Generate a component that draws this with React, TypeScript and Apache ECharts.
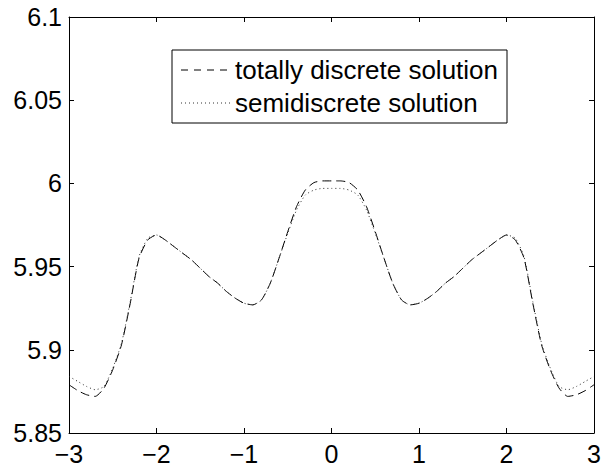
import React, { useEffect, useRef } from "react";
import * as echarts from "echarts";

const xs: number[] = [
  -3.0, -2.9, -2.8, -2.7, -2.6, -2.5, -2.4, -2.3, -2.2, -2.1, -2.0,
  -1.9, -1.8, -1.7, -1.6, -1.5, -1.4, -1.3, -1.2, -1.1, -1.0,
  -0.9, -0.8, -0.7, -0.6, -0.5, -0.4, -0.3, -0.2, -0.1, 0.0,
  0.1, 0.2, 0.3, 0.4, 0.5, 0.6, 0.7, 0.8, 0.9, 1.0,
  1.1, 1.2, 1.3, 1.4, 1.5, 1.6, 1.7, 1.8, 1.9, 2.0,
  2.1, 2.2, 2.3, 2.4, 2.5, 2.6, 2.7, 2.8, 2.9, 3.0,
];

const totallyDiscrete: number[] = [
  5.879, 5.8755, 5.873, 5.872, 5.877, 5.888, 5.903, 5.928, 5.955, 5.966, 5.969,
  5.966, 5.962, 5.958, 5.954, 5.949, 5.944, 5.94, 5.935, 5.931, 5.928,
  5.927, 5.93, 5.94, 5.955, 5.971, 5.986, 5.996, 6.0005, 6.0015, 6.0015,
  6.0015, 6.0005, 5.996, 5.986, 5.971, 5.955, 5.94, 5.93, 5.927, 5.928,
  5.931, 5.935, 5.94, 5.944, 5.949, 5.954, 5.958, 5.962, 5.966, 5.969,
  5.966, 5.955, 5.928, 5.903, 5.888, 5.877, 5.872, 5.873, 5.8755, 5.879,
];

const semiDiscrete: number[] = [
  5.884, 5.881, 5.878, 5.876, 5.878, 5.889, 5.904, 5.929, 5.956, 5.967, 5.969,
  5.966, 5.962, 5.958, 5.954, 5.949, 5.944, 5.94, 5.935, 5.931, 5.928,
  5.927, 5.93, 5.94, 5.955, 5.97, 5.984, 5.993, 5.996, 5.997, 5.997,
  5.997, 5.996, 5.993, 5.984, 5.97, 5.955, 5.94, 5.93, 5.927, 5.928,
  5.931, 5.935, 5.94, 5.944, 5.949, 5.954, 5.958, 5.962, 5.966, 5.969,
  5.967, 5.956, 5.929, 5.904, 5.889, 5.878, 5.876, 5.878, 5.881, 5.884,
];

const legendLabels: string[] = ["totally discrete solution", "semidiscrete solution"];

const FONT = "'Liberation Sans', Arial, Helvetica, sans-serif";

export default function App() {
  const ref = useRef<HTMLDivElement>(null);
  useEffect(() => {
    if (!ref.current) return;
    const chart = echarts.init(ref.current, undefined, { renderer: "svg" });
    const fmtX = (v: number) => String(Math.round(v)).replace("-", "\u2212");
    const fmtY = (v: number) => String(parseFloat(v.toFixed(2)));
    const axisCommon = {
      axisLine: { show: true, onZero: false, lineStyle: { color: "#000", width: 1 } },
      axisTick: { show: true, inside: true, length: 5, lineStyle: { color: "#000", width: 1 } },
      splitLine: { show: false },
    };
    chart.setOption({
      animation: false,
      backgroundColor: "#fff",
      grid: { left: 69, right: 8, top: 17, bottom: 38, containLabel: false },
      xAxis: [
        {
          type: "value", min: -3, max: 3, interval: 1, position: "bottom",
          ...axisCommon,
          axisLabel: { color: "#000", fontSize: 25, fontFamily: FONT, margin: 8, formatter: fmtX },
        },
        {
          type: "value", min: -3, max: 3, interval: 1, position: "top",
          ...axisCommon,
          axisLabel: { show: false },
        },
      ],
      yAxis: [
        {
          type: "value", min: 5.85, max: 6.1, interval: 0.05, position: "left",
          ...axisCommon,
          axisLabel: { color: "#000", fontSize: 25, fontFamily: FONT, margin: 7, formatter: fmtY },
        },
        {
          type: "value", min: 5.85, max: 6.1, interval: 0.05, position: "right",
          ...axisCommon,
          axisLabel: { show: false },
        },
      ],
      series: [
        {
          name: legendLabels[0],
          type: "line",
          showSymbol: false,
          data: xs.map((x, i) => [x, totallyDiscrete[i]]),
          lineStyle: { color: "#000", width: 1, type: [9, 5] },
          smooth: 0.2,
        },
        {
          name: legendLabels[1],
          type: "line",
          showSymbol: false,
          data: xs.map((x, i) => [x, semiDiscrete[i]]),
          lineStyle: { color: "#333", width: 1, type: [1, 3] },
          smooth: 0.2,
        },
      ],
      graphic: [
        {
          type: "rect",
          shape: { x: 172, y: 50, width: 335, height: 73 },
          style: { fill: "#fff", stroke: "#000", lineWidth: 1 },
          z: 100,
        },
        {
          type: "line",
          shape: { x1: 181, y1: 70, x2: 233, y2: 70 },
          style: { stroke: "#000", lineWidth: 1, lineDash: [7, 6] },
          z: 101,
        },
        {
          type: "line",
          shape: { x1: 181, y1: 103, x2: 233, y2: 103 },
          style: { stroke: "#333", lineWidth: 1, lineDash: [1, 3] },
          z: 101,
        },
        {
          type: "text",
          x: 235, y: 70,
          style: { text: legendLabels[0], fill: "#000", fontSize: 26, fontFamily: FONT, verticalAlign: "middle", align: "left" },
          z: 101,
        },
        {
          type: "text",
          x: 235, y: 103,
          style: { text: legendLabels[1], fill: "#000", fontSize: 26, fontFamily: FONT, verticalAlign: "middle", align: "left" },
          z: 101,
        },
      ],
    });
    return () => chart.dispose();
  }, []);
  return <div ref={ref} style={{ width: 604, height: 471, position: "absolute", left: 0, top: 0 }} />;
}
